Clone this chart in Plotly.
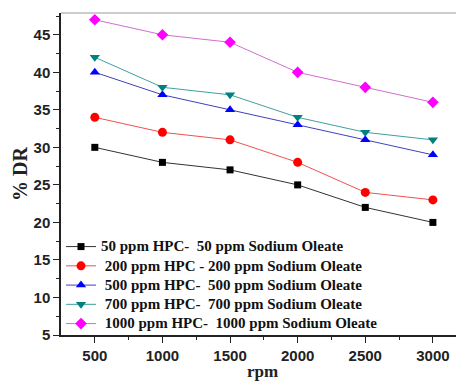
import plotly.graph_objects as go

rpm = [500, 1000, 1500, 2000, 2500, 3000]
s50 = [30, 28, 27, 25, 22, 20]
s200 = [34, 32, 31, 28, 24, 23]
s500 = [40, 37, 35, 33, 31, 29]
s700 = [42, 38, 37, 34, 32, 31]
s1000 = [47, 45, 44, 40, 38, 36]

names = [
    "50 ppm HPC-  50 ppm Sodium Oleate",
    "200 ppm HPC - 200 ppm Sodium Oleate",
    "500 ppm HPC-  500 ppm Sodium Oleate",
    "700 ppm HPC-  700 ppm Sodium Oleate",
    "1000 ppm HPC-  1000 ppm Sodium Oleate",
]
series = [s50, s200, s500, s700, s1000]
colors = ["#000000", "#FF0000", "#0000FF", "#008080", "#FF00FF"]
lcolors = ["#333333", "#F05050", "#4040C0", "#40A0A0", "#D070D0"]
symbols = ["square", "circle", "triangle-up", "triangle-down", "diamond"]

fig = go.Figure()
for i, (n, s, c, lc, sym) in enumerate(zip(names, series, colors, lcolors, symbols)):
    label = n if i == 0 else " " + n
    fig.add_trace(go.Scatter(
        x=rpm, y=s, name='<span style="font-size:15px">' + label + '</span>',
        mode="lines+markers",
        line=dict(color=lc, width=1),
        marker=dict(symbol=sym, color=c, size=9 if sym != "square" else 7),
    ))

# page body has an 8px default margin, so the figure is offset by 8px
fig.update_layout(
    width=456, height=373,
    margin=dict(l=53, r=0, t=5, b=46),
    plot_bgcolor="white", paper_bgcolor="white",
    showlegend=True,
    legend=dict(
        x=0.0, y=0.32, xanchor="left", yanchor="top",
        bgcolor="rgba(0,0,0,0)",
        font=dict(family="Liberation Serif", size=12.5, color="#111111", weight="bold"),
        itemwidth=30, tracegroupgap=0,
    ),
    shapes=[dict(type="line", xref="paper", yref="paper", x0=0, x1=1, y0=1, y1=1,
                 line=dict(color="#CCCCCC", width=2))],
)
fig.update_xaxes(
    range=[250, 3230], tickvals=rpm,
    ticks="outside", ticklen=6, tickwidth=1, tickcolor="#222",
    minor=dict(tickvals=[750, 1250, 1750, 2250, 2750], ticks="outside", ticklen=3, tickcolor="#222"),
    showline=True, linecolor="#222", linewidth=1.5, showgrid=False, zeroline=False,
    tickfont=dict(family="Liberation Sans", size=15, color="#222", weight="bold"),
    title=dict(text="<b>rpm</b>", font=dict(family="Liberation Serif", size=17, color="#222"), standoff=2),
)
fig.update_yaxes(
    range=[5, 47.9], tickvals=[5, 10, 15, 20, 25, 30, 35, 40, 45],
    ticks="outside", ticklen=6, tickwidth=1, tickcolor="#222",
    minor=dict(tickvals=[7.5, 12.5, 17.5, 22.5, 27.5, 32.5, 37.5, 42.5, 47.5], ticks="outside", ticklen=3, tickcolor="#222"),
    showline=True, linecolor="#222", linewidth=1.5, showgrid=False, zeroline=False,
    tickfont=dict(family="Liberation Sans", size=15, color="#222", weight="bold"),
    title=dict(text="<b>% DR</b>", font=dict(family="Liberation Serif", size=20, color="#222"), standoff=1),
)
fig.write_html("out.html")
